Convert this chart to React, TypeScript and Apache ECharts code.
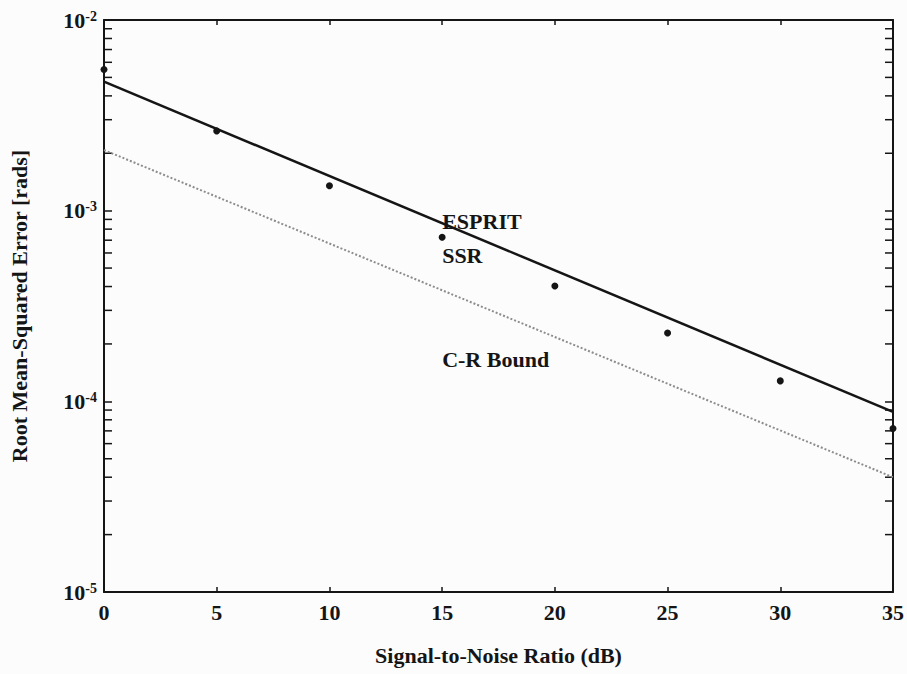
import React, { useEffect, useRef } from "react";
import * as echarts from "echarts";

// ---- data ----
const snrDb = [0, 5, 10, 15, 20, 25, 30, 35];
const ssrRmse = [5.5e-3, 2.62e-3, 1.35e-3, 7.25e-4, 4.03e-4, 2.28e-4, 1.28e-4, 7.2e-5];

const espritSnr = [0, 35];
const espritRmse = [4.75e-3, 8.8e-5];

const crBoundSnr = [0, 35];
const crBoundRmse = [2.08e-3, 4.0e-5];

const xTickValues = [0, 5, 10, 15, 20, 25, 30, 35];
const yDecades = [1e-5, 1e-4, 1e-3, 1e-2];
const minorMultipliers = [2, 3, 4, 5, 6, 7, 8, 9];

const annotationTexts = ["ESPRIT", "SSR", "C-R Bound"];
const annotationSnr = [15, 15, 15];
const annotationRmse = [8.73e-4, 5.79e-4, 1.65e-4];

const FONT = "'Liberation Serif', 'DejaVu Serif', serif";
const INK = "#151515";

export default function App() {
  const ref = useRef<HTMLDivElement>(null);

  useEffect(() => {
    if (!ref.current) return;
    const chart = echarts.init(ref.current, undefined, { renderer: "svg" });

    const minorTicks: number[] = [];
    yDecades.slice(0, -1).forEach((d) => minorMultipliers.forEach((m) => minorTicks.push(d * m)));

    const xMin = xTickValues[0];
    const xMax = xTickValues[xTickValues.length - 1];

    const yLabelFormatter = (v: number) => {
      const e = Math.round(Math.log10(v));
      return `{b|10}{s|${e < 0 ? "-" : ""}${Math.abs(e)}}`;
    };

    const axisLine = { show: true, onZero: false, lineStyle: { color: INK, width: 2 } };

    chart.setOption({
      animation: false,
      backgroundColor: "#fcfcfc",
      grid: { left: 104, right: 13, top: 20, bottom: 82, containLabel: false },
      xAxis: [
        {
          type: "value",
          position: "bottom",
          min: xMin,
          max: xMax,
          interval: 5,
          axisLine,
          axisTick: { show: true, inside: true, length: 5, lineStyle: { color: INK, width: 1.5 } },
          axisLabel: {
            show: true,
            margin: 9,
            color: INK,
            fontFamily: FONT,
            fontSize: 22,
            fontWeight: "bold",
          },
          splitLine: { show: false },
          name: "Signal-to-Noise Ratio (dB)",
          nameLocation: "middle",
          nameGap: 52,
          nameTextStyle: { color: INK, fontFamily: FONT, fontSize: 22, fontWeight: "bold" },
        },
        {
          type: "value",
          position: "top",
          min: xMin,
          max: xMax,
          interval: 5,
          axisLine,
          axisTick: { show: true, inside: true, length: 5, lineStyle: { color: INK, width: 1.5 } },
          axisLabel: { show: false },
          splitLine: { show: false },
        },
      ],
      yAxis: [
        {
          type: "log",
          logBase: 10,
          position: "left",
          min: yDecades[0],
          max: yDecades[yDecades.length - 1],
          axisLine,
          axisTick: { show: true, inside: true, length: 8, lineStyle: { color: INK, width: 1.5 } },
          axisLabel: {
            show: true,
            margin: 7,
            formatter: yLabelFormatter,
            rich: {
              b: { fontFamily: FONT, fontSize: 22, fontWeight: "bold", color: INK, lineHeight: 22 },
              s: {
                fontFamily: FONT,
                fontSize: 14,
                fontWeight: "bold",
                color: INK,
                lineHeight: 14,
                verticalAlign: "top",
              },
            },
          },
          splitLine: { show: false },
          name: "Root Mean-Squared Error [rads]",
          nameLocation: "middle",
          nameGap: 74,
          nameTextStyle: { color: INK, fontFamily: FONT, fontSize: 22, fontWeight: "bold" },
        },
        {
          type: "log",
          logBase: 10,
          position: "right",
          min: yDecades[0],
          max: yDecades[yDecades.length - 1],
          axisLine,
          axisTick: { show: true, inside: true, length: 8, lineStyle: { color: INK, width: 1.5 } },
          axisLabel: { show: false },
          splitLine: { show: false },
        },
      ],
      series: [
        {
          name: "ESPRIT",
          type: "line",
          xAxisIndex: 0,
          yAxisIndex: 0,
          data: espritSnr.map((x, i) => [x, espritRmse[i]]),
          showSymbol: false,
          symbol: "none",
          lineStyle: { color: INK, width: 2.5 },
          z: 3,
        },
        {
          name: "C-R Bound",
          type: "line",
          xAxisIndex: 0,
          yAxisIndex: 0,
          data: crBoundSnr.map((x, i) => [x, crBoundRmse[i]]),
          showSymbol: false,
          symbol: "none",
          lineStyle: { color: "#8c8c8c", width: 2, type: [2, 2] },
          z: 2,
        },
        {
          name: "SSR",
          type: "scatter",
          xAxisIndex: 0,
          yAxisIndex: 0,
          data: snrDb.map((x, i) => [x, ssrRmse[i]]),
          symbol: "circle",
          symbolSize: 7,
          itemStyle: { color: INK, opacity: 1 },
          clip: false,
          z: 4,
        },
        {
          name: "labels",
          type: "scatter",
          xAxisIndex: 0,
          yAxisIndex: 0,
          data: annotationTexts.map((t, i) => ({ value: [annotationSnr[i], annotationRmse[i]], name: t })),
          symbolSize: 0,
          silent: true,
          itemStyle: { opacity: 1 },
          label: {
            show: true,
            position: [0, 0],
            align: "left",
            verticalAlign: "middle",
            formatter: (p: any) => p.name,
            color: INK,
            opacity: 1,
            fontFamily: FONT,
            fontSize: 22,
            fontWeight: "bold",
          },
          z: 5,
        },
        {
          name: "minorTicks",
          type: "custom",
          xAxisIndex: 0,
          yAxisIndex: 0,
          silent: true,
          data: minorTicks.map((v) => [xMin, v]),
          renderItem: (_params: any, api: any) => {
            const v = api.value(1);
            const pl = api.coord([xMin, v]);
            const pr = api.coord([xMax, v]);
            const style = { stroke: INK, lineWidth: 1.5 };
            return {
              type: "group",
              children: [
                { type: "line", shape: { x1: pl[0], y1: pl[1], x2: pl[0] + 8, y2: pl[1] }, style },
                { type: "line", shape: { x1: pr[0], y1: pr[1], x2: pr[0] - 8, y2: pr[1] }, style },
              ],
            };
          },
          z: 1,
        },
      ],
    });

    return () => chart.dispose();
  }, []);

  return (
    <div
      ref={ref}
      style={{ position: "absolute", left: 0, top: 0, width: 907, height: 674 }}
    />
  );
}
